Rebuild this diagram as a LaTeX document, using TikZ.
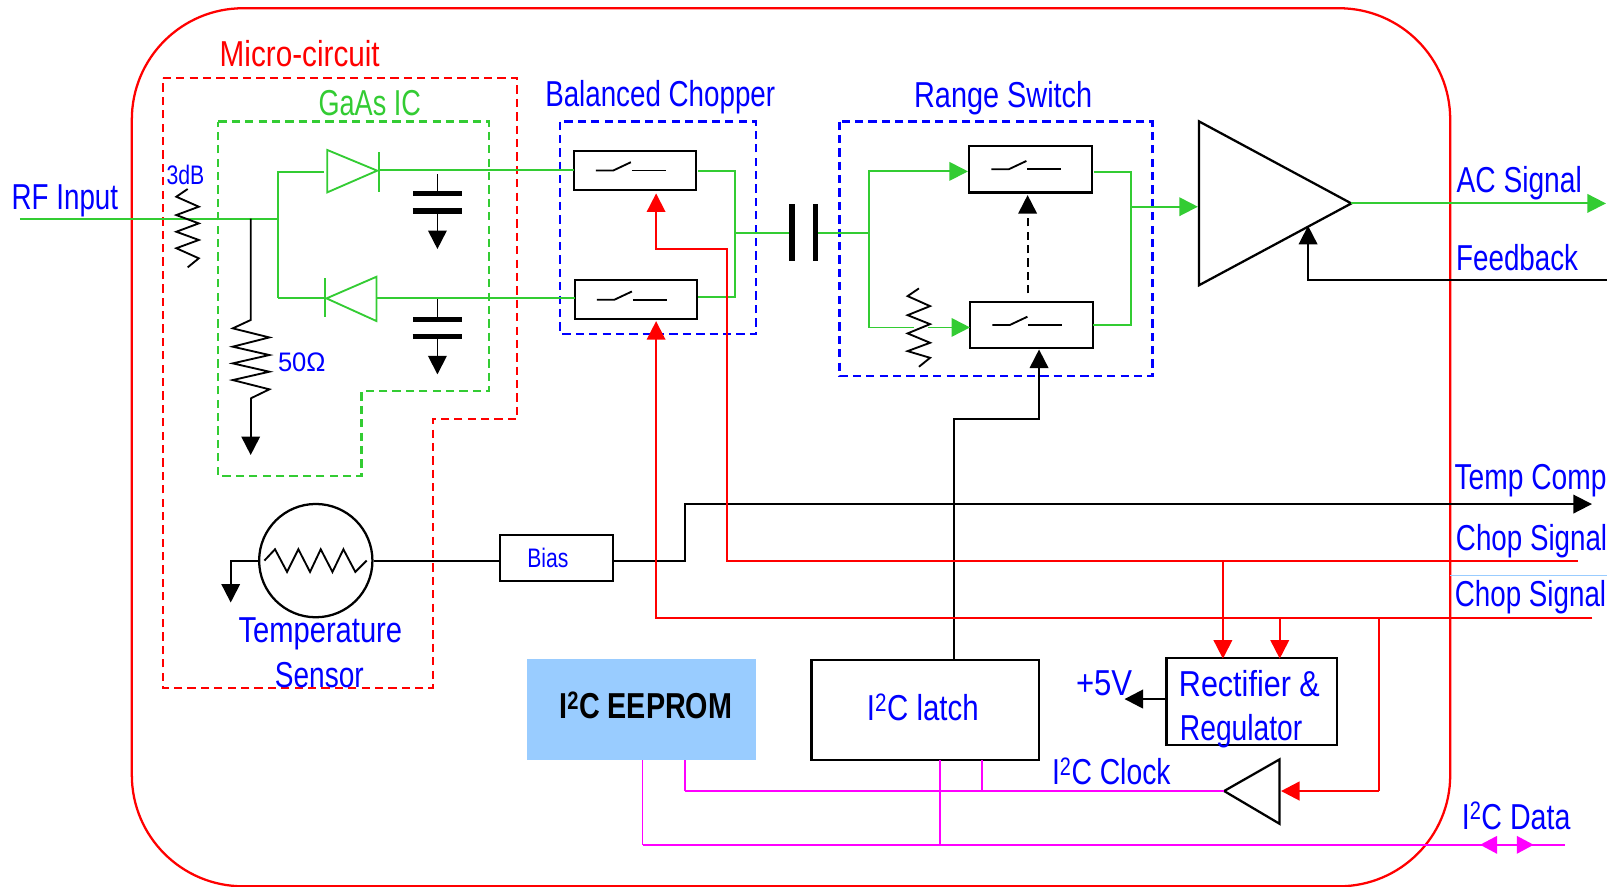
\documentclass[tikz,border=0pt]{standalone}
\usepackage{graphicx}
\usepackage{fontspec}
\setmainfont[FakeStretch=0.77]{Liberation Sans}
\usetikzlibrary{arrows.meta}
\definecolor{mygreen}{HTML}{33CC33}
\definecolor{myblue}{HTML}{0000FF}
\definecolor{mymag}{HTML}{FF00FF}
\definecolor{myfill}{HTML}{99CCFF}
\newcommand{\sx}[2]{\scalebox{#1}[1]{#2}}
\tikzset{
  wire/.style={line width=1.8pt,line join=miter},
  gwire/.style={wire,draw=mygreen},
  rwire/.style={wire,draw=red},
  kwire/.style={wire,draw=black},
  mwire/.style={wire,draw=mymag},
  tip/.style={-{Triangle[length=18pt,width=18pt]}},
  dashbox/.style={line width=2.1pt,dash pattern=on 8pt off 5pt},
  swbox/.style={draw=black,line width=2.2pt,minimum width=119pt,minimum height=40pt,inner sep=0pt},
  plate/.style={line width=5pt,draw=black},
  lbl/.style={anchor=base,inner sep=0pt,text=myblue,font=\fontsize{35}{35}\selectfont},
  small/.style={lbl,font=\fontsize{26}{26}\selectfont},
}
\begin{document}
\begin{tikzpicture}[x=1pt,y=-1pt]
\useasboundingbox (0,0) rectangle (1568,861);
\fill[white] (0,0) rectangle (1568,861);
% outer and dashed enclosures
\draw[red,line width=2.2pt,rounded corners=108pt] (128,8) rectangle (1408,860.5);
\draw[red,dashbox] (158,76)--(502,76)--(502,407)--(420,407)--(420,668)--(158,668)--cycle;
\draw[mygreen,dashbox] (212,118)--(475,118)--(475,380)--(351,380)--(351,462)--(212,462)--cycle;
\draw[myblue,dashbox] (544,118) rectangle (734,324);
\draw[myblue,dashbox] (815,118) rectangle (1119,365);
% boxes
\node[swbox,minimum height=38pt] (b1) at (616.5,165.5) {};
\node[swbox,minimum height=38pt] (b2) at (617.5,291) {};
\node[swbox,minimum height=45pt] (r1) at (1000.5,164.3) {};
\node[swbox,minimum height=45pt] (r2) at (1001.5,315.5) {};
\foreach \n in {b1,b2,r1,r2}{
  \draw[kwire] ([xshift=-38pt]\n.center) -- ([xshift=-21pt]\n.center) -- ([xshift=-4pt,yshift=8pt]\n.center);
  \draw[kwire] ([xshift=-3pt]\n.center) -- ([xshift=30pt]\n.center);
}
\node[draw=black,line width=2pt,minimum width=110pt,minimum height=44pt,inner sep=0pt] (bias) at (540.3,541.8) {};
\node[draw=none,fill=myfill,minimum width=222pt,minimum height=98pt,inner sep=0pt] (eeprom) at (623,689.3) {};
\node[draw=black,line width=2.2pt,minimum width=220.7pt,minimum height=97pt,inner sep=0pt] (latch) at (898.3,689.5) {};
\node[draw=black,line width=2.2pt,minimum width=165.4pt,minimum height=84.7pt,inner sep=0pt] (rect) at (1215.3,681.3) {};
\node[draw=black,line width=2.2pt,circle,minimum size=110pt,inner sep=0pt] (temp) at (306.6,544.3) {};
% amplifier, buffer, diodes
\coordinate (ampT) at (1164,117.8); \coordinate (ampB) at (1164,277); \coordinate (ampO) at (1312,197.5);
\draw[black,line width=2.2pt] (ampT)--(ampO)--(ampB)--cycle;
\coordinate (bufO) at (1188.5,768); \coordinate (bufT) at (1242.3,737.3); \coordinate (bufB) at (1242.3,799.8);
\draw[black,line width=2.2pt] (bufO)--(bufT)--(bufB)--cycle;
\draw[mygreen,line width=1.8pt] (317.7,145.6)--(366.2,165.7)--(317.7,186.8)--cycle;
\draw[mygreen,line width=1.8pt] (367.8,147.9)--(367.8,186.8);
\draw[mygreen,line width=1.8pt] (365.5,268.7)--(317,289.7)--(365.5,311.7)--cycle;
\draw[mygreen,line width=1.8pt] (315.3,270.3)--(315.3,307.5);
% green wires
\coordinate (rfin) at (19.4,212.3);
\coordinate (rfj) at (270.2,212.3);
\coordinate (rfj2) at (243.4,212.3);
\draw[gwire] (rfin)--(rfj);
\draw[gwire] (270.2,289)|-(314.7,166.7);
\draw[gwire] (270.2,289)--(315.3,289);
\draw[gwire] (367.8,165)--(557,165);
\draw[gwire] (365.5,289)--(558,289);
\coordinate (chopR) at (713.5,226.6);
\draw[gwire] (678,165.8)-|(chopR);
\draw[gwire] (678,288)-|(chopR);
\coordinate (capL) at (769,226.6); \coordinate (capR) at (792,226.6);
\draw[gwire] (chopR)--(capL);
\coordinate (rsL) at (843.5,226.6);
\draw[gwire] (capR)--(rsL);
\draw[gwire,tip] (rsL)|-(939.8,166.4);
\draw[gwire] (rsL)|-(887,317.9);
\draw[gwire,tip] (901,317.9)--(941.8,317.9);
\draw[gwire] (1061.9,167)-|(1098.4,315.6)--(1061.5,315.6);
\draw[gwire,tip] (1098.4,200.7)--(1163,200.7);
\coordinate (acout) at (1559.2,197.5);
\draw[gwire,tip] (ampO)--(acout);
% capacitors
\draw[plate] (769,198.5)--(769,253.8);
\draw[plate] (792,198.5)--(792,253.8);
\draw[plate] (401.3,187.7)--(448.8,187.7);
\draw[plate] (400.5,204.9)--(448.2,204.9);
\draw[kwire] (424.7,169)--(424.7,187.7);
\draw[kwire,tip] (424.7,204.9)--(424.7,241.8);
\draw[plate] (401.3,309.8)--(448.8,309.8);
\draw[plate] (400.5,326.6)--(448.2,326.6);
\draw[kwire] (424.7,290.7)--(424.7,309.8);
\draw[kwire,tip] (424.7,326.6)--(424.7,363.5);
% resistors
\draw[kwire] (182.2,183.5)--(171.2,191)--(193,200.7)--(171.2,208.8)--(193,216.9)--(171.2,225)--(193,233)--(171.2,241)--(193,250.8)--(182.2,259.6);
\draw[kwire] (rfj2)--(243.4,310.7)--(226,318.8)--(261.5,327.6)--(226,336.6)--(261.5,344.7)--(226,352.8)--(261.5,360.9)--(226,369)--(261.5,378)--(243.4,386.8);
\draw[kwire,tip] (243.4,386.8)--(243.4,441.8);
\draw[kwire] (892.2,280)--(881.2,287.5)--(903,297.2)--(881.2,306)--(903,314.7)--(881.2,323.7)--(903,332.8)--(881.2,340.9)--(903,347.4)--(892.2,356.1);
\draw[kwire] (256.7,544.3)--(267,533.3)--(278.7,555.3)--(289.7,533.3)--(301,555.3)--(311.4,533.3)--(322.8,555.3)--(333.4,533.3)--(345,555.3)--(356,544.3);
% black wires
\coordinate (fbk) at (1560,272);
\draw[kwire,tip] (fbk)-|(1270,219.2);
\coordinate (tempout) at (1545.6,489.4);
\draw[kwire] (temp.east)--(bias.west|-temp.east);
\draw[kwire,tip] (bias.east|-temp.east)-|(665,489.4)--(tempout);
\draw[kwire,tip] (temp.west)-|(224,585);
\draw[kwire,tip] (926,641)|-(1008.8,407)--(1008.8,339.3);
\draw[kwire,dash pattern=on 8pt off 5pt,tip] (997.7,284.9)--(997.7,189.4);
\draw[kwire,tip,line width=2.4pt] (1132.6,678.7)--(1091.8,678.7);
% red wires
\coordinate (chopA) at (1532,544.5);
\coordinate (chopB) at (1546,600.4);
\draw[rwire,tip] (chopA)-|(706,241.8)-|(637,187.8);
\draw[rwire,tip] (chopB)-|(637,311.8);
\draw[rwire,tip] (1187.3,544.5)--(1187.3,639.5);
\draw[rwire,tip] (1242.5,600.4)--(1242.5,639.5);
\draw[rwire,line width=1.8pt] (1339,600.4)--(1339,768);
\draw[rwire,tip,line width=2.6pt] (1339,768)--(1243.7,768);
\draw[myfill,line width=1.6pt] (1407.4,558.6)--(1560,558.6);
% magenta wires
\coordinate (dataout) at (1519,820.2);
\coordinate (clkj) at (664.7,768);
\coordinate (datj) at (623.8,820.2);
\draw[mwire] (664.7,738.3)--(clkj);
\draw[mwire,line width=2.4pt] (clkj)--(bufO);
\draw[mwire] (623.8,738.3)--(datj);
\draw[mwire,line width=2.4pt] (datj)--(dataout);
\draw[mwire] (912.6,738)--(912.6,820.2);
\draw[mwire] (953.5,738)--(953.5,768);
\fill[mymag] (1437,820.2)--(1453.5,811.5)--(1453.5,829)--cycle;
\fill[mymag] (1489,820.2)--(1472.6,811.5)--(1472.6,829)--cycle;
% labels
\node[lbl,text=red] (tmc) at (291,64.7) {\sx{1.07}{Micro-circuit}};
\node[lbl,text=mygreen] (tga) at (359,111.7) {\sx{0.975}{GaAs IC}};
\node[lbl] (trf) at (63,203.3) {RF Input};
\node[small] (t3db) at (180,179) {\sx{1.03}{3dB}};
\node[small] (t50) at (293,360.9) {\sx{1.24}{50Ω}};
\node[lbl] (tbc) at (641,103) {Balanced Chopper};
\node[lbl] (trs) at (974,104.3) {\sx{1.04}{Range Switch}};
\node[lbl] (tac) at (1475,186.7) {\sx{1.015}{AC Signal}};
\node[lbl] (tfb) at (1473,262.5) {Feedback};
\node[lbl] (ttc) at (1486,475) {\sx{1.015}{Temp Comp}};
\node[lbl] (tc1) at (1487,534.5) {Chop Signal};
\node[lbl] (tc2) at (1486,588.5) {Chop Signal};
\node[lbl] (tts) at (311,623.6) {\sx{1.05}{Temperature}};
\node[lbl] (tse) at (310,667.3) {\sx{1.01}{Sensor}};
\node[small] (tbi) at (532,550.8) {\sx{1.025}{Bias}};
\node[lbl,text=black,font=\fontsize{35}{35}\selectfont\bfseries] (tee) at (627,697.5) {\sx{1.035}{I\textsuperscript{2}C EEPROM}};
\node[lbl] (tla) at (896,700) {\sx{1.06}{I\textsuperscript{2}C latch}};
\node[lbl] (t5v) at (1072,675) {\sx{1.12}{+5V}};
\node[lbl] (tre) at (1213,675.8) {\sx{1.10}{Rectifier \&}};
\node[lbl] (tgu) at (1205,718.5) {\sx{1.017}{Regulator}};
\node[lbl] (tcl) at (1079,762) {\sx{1.02}{I\textsuperscript{2}C Clock}};
\node[lbl] (tda) at (1472,805) {\sx{1.03}{I\textsuperscript{2}C Data}};
\end{tikzpicture}
\end{document}
